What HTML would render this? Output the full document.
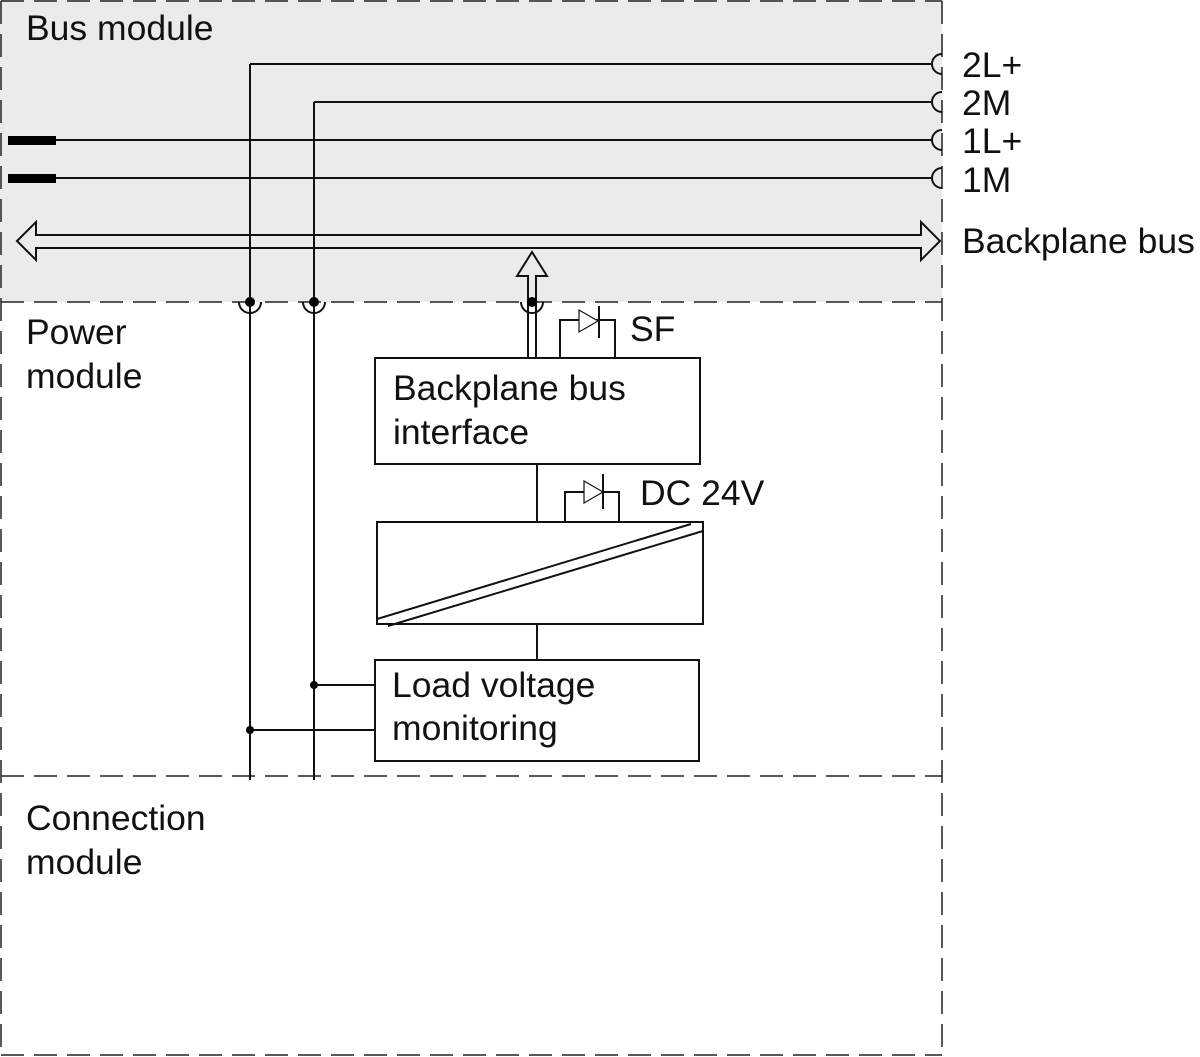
<!DOCTYPE html>
<html><head><meta charset="utf-8"><style>
body{margin:0;background:#fff}
svg{display:block}
text{font-family:"Liberation Sans",Arial,sans-serif;font-size:35.5px;fill:#111}
</style></head><body>
<svg width="1200" height="1057" viewBox="0 0 1200 1057" xmlns="http://www.w3.org/2000/svg">
<rect x="0" y="0" width="942" height="302" fill="#ebebeb"/>
<g stroke="#222" stroke-width="1.5" fill="none" stroke-dasharray="23,10">
<line x1="1" y1="1" x2="942" y2="1"/>
<line x1="1" y1="302" x2="942" y2="302"/>
<line x1="1" y1="776" x2="942" y2="776"/>
<line x1="1" y1="1055" x2="942" y2="1055"/>
<line x1="1" y1="1" x2="1" y2="1055"/>
<line x1="942" y1="1" x2="942" y2="1055"/>
</g>
<g stroke="#111" stroke-width="2" fill="none">
<line x1="250" y1="64" x2="932" y2="64"/>
<line x1="314" y1="102" x2="932" y2="102"/>
<line x1="56" y1="140" x2="932" y2="140"/>
<line x1="56" y1="178" x2="932" y2="178"/>
<line x1="250" y1="64" x2="250" y2="780"/>
<line x1="314" y1="102" x2="314" y2="780"/>
<path d="M942 54 A10 10 0 0 0 942 74"/>
<path d="M942 92 A10 10 0 0 0 942 112"/>
<path d="M942 130 A10 10 0 0 0 942 150"/>
<path d="M942 168 A10 10 0 0 0 942 188"/>
<path d="M239 302 A11 11 0 0 0 261 302"/>
<path d="M303 302 A11 11 0 0 0 325 302"/>
<path d="M521 302 A11 11 0 0 0 543 302"/>
<path d="M17 241 L36 222 L36 235 L921 235 L921 222 L940 241 L921 260 L921 248 L36 248 L36 260 Z"/>
<path d="M528 358 L528 276 L517 276 L532 252 L547 276 L536 276 L536 358"/>
<rect x="375" y="358" width="325" height="106" fill="#fff"/>
<rect x="377" y="522" width="326" height="102"/>
<rect x="375" y="660" width="324" height="101"/>
<line x1="377" y1="619" x2="691" y2="524"/>
<line x1="388" y1="626" x2="703" y2="531"/>
<line x1="537" y1="464" x2="537" y2="522"/>
<line x1="537" y1="624" x2="537" y2="660"/>
<line x1="314" y1="685" x2="375" y2="685"/>
<line x1="250" y1="730" x2="375" y2="730"/>
<path d="M560 358 L560 320 L615 320 L615 358"/>
<path d="M579 310 L579 332 L598 321 Z" fill="#fff" stroke-width="1.2"/>
<line x1="599" y1="306" x2="599" y2="338"/>
<path d="M565 522 L565 492 L619 492 L619 522"/>
<path d="M584 481 L584 503 L603 492 Z" fill="#fff" stroke-width="1.2"/>
<line x1="603" y1="474" x2="603" y2="509"/>
</g>
<rect x="8" y="136" width="48" height="9" fill="#000"/>
<rect x="8" y="174" width="48" height="9" fill="#000"/>
<g fill="#000">
<circle cx="250" cy="302" r="5"/><circle cx="314" cy="302" r="5"/><circle cx="532" cy="302" r="5"/>
<circle cx="314" cy="685" r="4"/><circle cx="250" cy="730" r="4"/>
</g>
<text x="26" y="40">Bus module</text>
<text x="962" y="77">2L+</text>
<text x="962" y="115">2M</text>
<text x="962" y="153">1L+</text>
<text x="962" y="192">1M</text>
<text x="962" y="253">Backplane bus</text>
<text x="26" y="344">Power</text>
<text x="26" y="388">module</text>
<text x="630" y="341">SF</text>
<text x="393" y="400">Backplane bus</text>
<text x="393" y="444">interface</text>
<text x="640" y="505">DC 24V</text>
<text x="392" y="697">Load voltage</text>
<text x="392" y="740">monitoring</text>
<text x="26" y="830">Connection</text>
<text x="26" y="874">module</text>
</svg>
</body></html>
